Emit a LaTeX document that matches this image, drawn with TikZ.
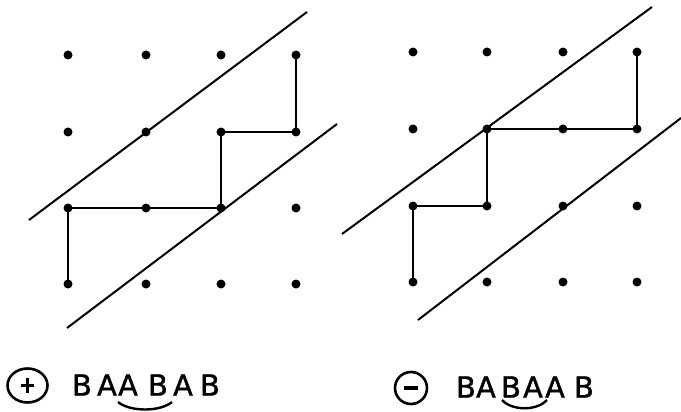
\documentclass[tikz,border=0pt]{standalone}
\usepackage{fontspec}
\setmainfont{DejaVu Sans}
\newfontfamily\handfont[FakeBold=1.2]{DejaVu Sans}
\usetikzlibrary{shapes.geometric}
\begin{document}
\begin{tikzpicture}[x=1pt,y=-1pt,
  dot/.style={circle,fill=black,inner sep=0pt,minimum size=9pt},
  diag/.style={line width=2pt},
  walk/.style={line width=2.5pt},
  ltr/.style={inner sep=0pt,font=\handfont\fontsize{29}{29}\selectfont},
  sgn/.style={line width=2.6pt},
  ring/.style={draw,ellipse,line width=2.6pt,inner sep=0pt},
  smile/.style={line width=2.4pt}]
\useasboundingbox (0,0) rectangle (681,412);
% left lattice
\foreach \x [count=\i] in {68,146,221,296}
  \foreach \y [count=\j] in {55,132,208,284}
    \node[dot] (L\i\j) at (\x,\y) {};
% right lattice
\foreach \x [count=\i] in {413,487,563,637}
  \foreach \y [count=\j] in {52,129,206,282}
    \node[dot] (R\i\j) at (\x,\y) {};
% diagonal boundaries
\coordinate (LUa) at (29,220);  \coordinate (LUb) at (307,12);
\coordinate (LLa) at (67,328);  \coordinate (LLb) at (337,124);
\coordinate (RUa) at (342,234); \coordinate (RUb) at (652,7);
\coordinate (RLa) at (418,320); \coordinate (RLb) at (681,118);
\draw[diag] (LUa) -- (LUb);
\draw[diag] (LLa) -- (LLb);
\draw[diag] (RUa) -- (RUb);
\draw[diag] (RLa) -- (RLb);
% lattice paths
\draw[walk] (L14.center) -- (L13.center) -- (L23.center) -- (L33.center)
  -- (L32.center) -- (L42.center) -- (L41.center);
\draw[walk] (R14.center) -- (R13.center) -- (R23.center) -- (R22.center)
  -- (R32.center) -- (R42.center) -- (R41.center);
% signs
\node[ring,minimum width=40pt,minimum height=34pt] (plus) at (27.5,385.5) {};
\draw[sgn] ([yshift=-7.5pt]plus.center) -- ([yshift=7.5pt]plus.center);
\draw[sgn] ([xshift=-6.5pt]plus.center) -- ([xshift=6.5pt]plus.center);
\node[ring,minimum width=32pt,minimum height=32pt] (minus) at (411,388) {};
\draw[line width=3.4pt] ([xshift=-7pt]minus.center) -- ([xshift=7pt]minus.center);
% words
\foreach \c/\x [count=\k] in {B/82,A/107,A/128,B/158,A/183,B/210}
  \node[ltr] (a\k) at (\x,385) {\c};
\foreach \c/\x [count=\k] in {B/466,A/486,B/511,A/533,A/555,B/584}
  \node[ltr] (b\k) at (\x,387) {\c};
% underarcs
\coordinate (sa1) at (118,402); \coordinate (sa2) at (172,402);
\coordinate (sb1) at (502,400); \coordinate (sb2) at (547,400);
\draw[smile] (sa1) .. controls (130,412) and (160,412) .. (sa2);
\draw[smile] (sb1) .. controls (512,411) and (537,411) .. (sb2);
\end{tikzpicture}
\end{document}
